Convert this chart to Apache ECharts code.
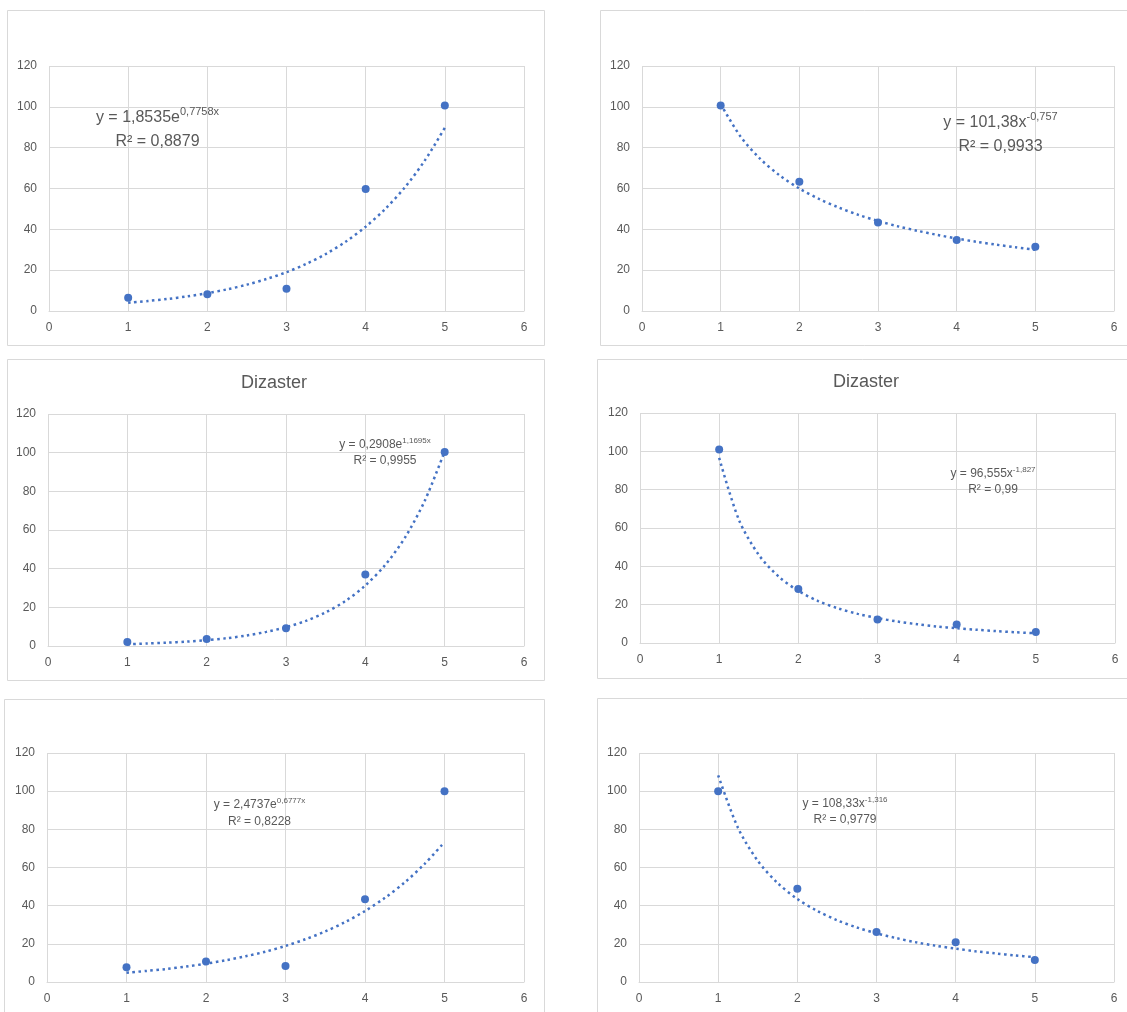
<!DOCTYPE html>
<html><head><meta charset="utf-8">
<script src="https://cdn.jsdelivr.net/npm/echarts@6/dist/echarts.min.js"></script>
<style>html,body{margin:0;padding:0;background:#fff}#c{width:1127px;height:1012px}</style>
</head><body><div id="c"></div>
<script>
// ---- data ----
const xValues = [1, 2, 3, 4, 5];
const trendX = [1, 1.25, 1.5, 1.75, 2, 2.25, 2.5, 2.75, 3, 3.25, 3.5, 3.75, 4, 4.25, 4.5, 4.75, 5];
const xTickLabels = ['0', '1', '2', '3', '4', '5', '6'];
const yTickLabels = ['0', '20', '40', '60', '80', '100', '120'];

const topLeftY = [6.5, 8.2, 10.9, 59.8, 100.6];
const topLeftTrend = [4.0, 4.9, 5.9, 7.2, 8.7, 10.6, 12.9, 15.7, 19.0, 23.1, 28.0, 34.0, 41.3, 50.1, 60.8, 73.9, 89.7];
const topRightY = [100.6, 63.3, 43.4, 34.8, 31.5];
const topRightTrend = [101.4, 85.6, 74.6, 66.4, 60.0, 54.9, 50.7, 47.1, 44.1, 41.5, 39.3, 37.3, 35.5, 33.9, 32.5, 31.2, 30.0];
const midLeftY = [2.1, 3.6, 9.2, 37.0, 100.3];
const midLeftTrend = [0.9, 1.3, 1.7, 2.3, 3.0, 4.0, 5.4, 7.3, 9.7, 13.0, 17.4, 23.3, 31.3, 41.9, 56.1, 75.2, 100.7];
const midRightY = [100.9, 28.2, 12.2, 9.7, 5.7];
const midRightTrend = [96.6, 64.2, 46.0, 34.7, 27.2, 21.9, 18.1, 15.2, 13.0, 11.2, 9.8, 8.6, 7.7, 6.9, 6.2, 5.6, 5.1];
const bottomLeftY = [7.7, 10.8, 8.4, 43.4, 100.0];
const bottomLeftTrend = [4.9, 5.8, 6.8, 8.1, 9.6, 11.4, 13.5, 15.9, 18.9, 22.4, 26.5, 31.4, 37.2, 44.1, 52.2, 61.9, 73.3];
const bottomRightY = [100.0, 48.8, 26.2, 20.8, 11.5];
const bottomRightTrend = [108.3, 80.8, 63.5, 51.9, 43.5, 37.3, 32.4, 28.6, 25.5, 23.0, 20.8, 19.0, 17.5, 16.1, 15.0, 13.9, 13.0];

const chartTitles = ['', '', 'Dizaster', 'Dizaster', '', ''];
const eqBase = ['y = 1,8535e', 'y = 101,38x', 'y = 0,2908e', 'y = 96,555x', 'y = 2,4737e', 'y = 108,33x'];
const eqExp = ['0,7758x', '-0,757', '1,1695x', '-1,827', '0,6777x', '-1,316'];
const r2Text = ['R² = 0,8879', 'R² = 0,9933', 'R² = 0,9955', 'R² = 0,99', 'R² = 0,8228', 'R² = 0,9779'];

const pointSets = [topLeftY, topRightY, midLeftY, midRightY, bottomLeftY, bottomRightY];
const trendSets = [topLeftTrend, topRightTrend, midLeftTrend, midRightTrend, bottomLeftTrend, bottomRightTrend];

// ---- layout (pixels) ----
const layout = [
  { grid: [49, 66, 475, 245], box: [7, 10, 537, 335], eq: [157.5, 130, 16, 11, 24] },
  { grid: [642, 66, 472, 245], box: [600, 10, 560, 335], eq: [1000.5, 135, 16, 11, 24] },
  { grid: [48, 414, 476, 232], box: [7, 359, 537, 321], eq: [385, 453, 12, 8, 16], title: [274, 383] },
  { grid: [640, 413, 475, 230], box: [597, 359, 560, 319], eq: [993, 482, 12, 8, 16], title: [866, 382] },
  { grid: [47, 753, 477, 229], box: [4, 699, 540, 340], eq: [259.5, 813.5, 12, 8, 17] },
  { grid: [639, 753, 475, 229], box: [597, 698, 560, 340], eq: [845, 812, 12, 8, 16] }
];

const FONT = 'Liberation Sans';
const GRAY = '#595959';
const GRID = '#d9d9d9';
const BLUE = '#4472C4';

const grids = [], xAxes = [], yAxes = [], series = [], graphics = [];
layout.forEach((L, i) => {
  grids.push({ left: L.grid[0], top: L.grid[1], width: L.grid[2], height: L.grid[3], containLabel: false });
  xAxes.push({
    type: 'value', gridIndex: i, min: 0, max: 6, interval: 1,
    axisLine: { show: true, lineStyle: { color: GRID, width: 1 } },
    axisTick: { show: false },
    axisLabel: { color: GRAY, fontFamily: FONT, fontSize: 12, margin: 11,
      formatter: v => xTickLabels[Math.round(v)] },
    splitLine: { show: true, lineStyle: { color: GRID, width: 1 } }
  });
  yAxes.push({
    type: 'value', gridIndex: i, min: 0, max: 120, interval: 20,
    axisLine: { show: false }, axisTick: { show: false },
    axisLabel: { color: GRAY, fontFamily: FONT, fontSize: 12, margin: 12,
      formatter: v => yTickLabels[Math.round(v / 20)] },
    splitLine: { show: true, lineStyle: { color: GRID, width: 1 } }
  });
  series.push({
    type: 'scatter', xAxisIndex: i, yAxisIndex: i, symbol: 'circle', symbolSize: 8,
    itemStyle: { color: BLUE, opacity: 1 }, z: 3,
    data: xValues.map((x, k) => [x, pointSets[i][k]])
  });
  series.push({
    type: 'line', xAxisIndex: i, yAxisIndex: i, smooth: 0.3, symbol: 'none', z: 4,
    lineStyle: { color: BLUE, width: 2.5, type: [2.5, 3.5], cap: 'butt', opacity: 1 },
    data: trendX.map((x, k) => [x, trendSets[i][k]])
  });
  graphics.push({
    type: 'rect', silent: true, z: -1,
    shape: { x: L.box[0] + 0.5, y: L.box[1] + 0.5, width: L.box[2], height: L.box[3] },
    style: { fill: 'none', stroke: GRID, lineWidth: 1 }
  });
  if (chartTitles[i]) {
    graphics.push({
      type: 'text', x: L.title[0], y: L.title[1], silent: true,
      style: { text: chartTitles[i], fill: GRAY, fontFamily: FONT, fontSize: 18,
        align: 'center', verticalAlign: 'middle' }
    });
  }
  const [ex, ey, fs, ss, lh] = L.eq;
  graphics.push({
    type: 'text', x: ex, y: ey, silent: true, z: 10,
    style: {
      text: '{m|' + eqBase[i] + '}{s|' + eqExp[i] + '}\n{m|' + r2Text[i] + '}',
      align: 'center', verticalAlign: 'middle', fill: GRAY, fontFamily: FONT, fontSize: fs,
      rich: {
        m: { fontSize: fs, lineHeight: lh, fill: GRAY, fontFamily: FONT },
        s: { fontSize: ss, lineHeight: Math.round(lh / 2), verticalAlign: 'top', fill: GRAY, fontFamily: FONT }
      }
    }
  });
});

const chart = echarts.init(document.getElementById('c'), null, { renderer: 'canvas' });
chart.setOption({
  backgroundColor: '#ffffff',
  animation: false,
  grid: grids, xAxis: xAxes, yAxis: yAxes, series: series,
  graphic: { elements: graphics }
});
</script>
</body></html>
